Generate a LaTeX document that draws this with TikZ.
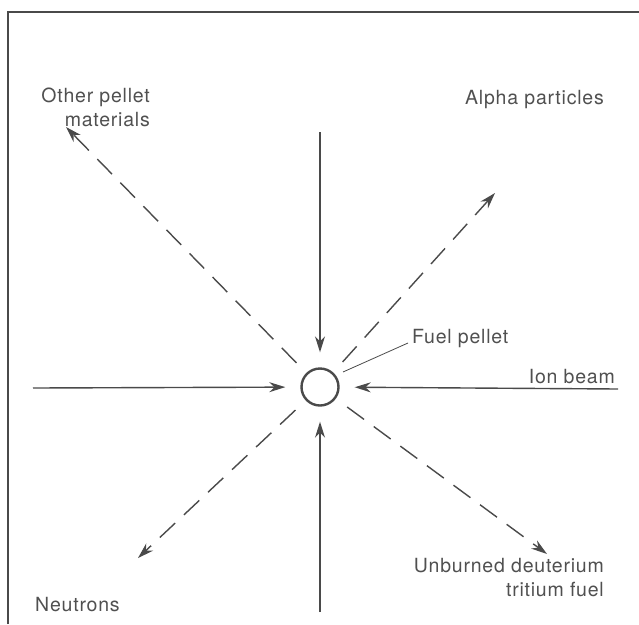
\documentclass[tikz,border=0pt]{standalone}
\usepackage{fontspec}
\setmainfont{TeX Gyre Heros}[LetterSpace=4]
\usetikzlibrary{arrows.meta}
\definecolor{ink}{HTML}{4A4A4A}
\definecolor{txt}{HTML}{505050}
\begin{document}
\begin{tikzpicture}[x=1pt,y=-1pt,
  lbl/.style={text=txt, font=\fontsize{19.5}{24}\selectfont, inner sep=0pt},
  tip/.style={-{Stealth[length=16pt,width=10pt]}},
  beam/.style={draw=ink, line width=1.4pt, tip, shorten >=15pt},
  prod/.style={draw=ink, line width=1.4pt, dash pattern=on 21pt off 12pt, tip, shorten <=14pt},
  frame/.style={draw=ink, line width=2pt},
  lead/.style={draw=ink, line width=0.8pt}]
\useasboundingbox (0,0) rectangle (639,624);
% frame
\draw[frame] (8,624) -- (8,12) -- (639,12);
% pellet
\node[draw=ink, line width=2.4pt, circle, minimum size=37pt, inner sep=0pt] (pellet) at (320,387) {};
% beam sources
\coordinate (top) at (320,132);
\coordinate (bot) at (320,612);
\coordinate (lft) at (33,388);
\coordinate (rgt) at (618,389);
\draw[beam] (top) -- (pellet);
\draw[beam] (bot) -- (pellet);
\draw[beam] (lft) -- (pellet);
\draw[beam] (rgt) -- (pellet);
% products
\coordinate (nw) at (66,127);
\coordinate (ne) at (495,193);
\coordinate (sw) at (138,558);
\coordinate (se) at (547,554);
\draw[prod] (pellet) -- (nw);
\draw[prod] (pellet) -- (ne);
\draw[prod] (pellet) -- (sw);
\draw[prod] (pellet) -- (se);
% labels
\node[lbl, anchor=north east, align=right] (other) at (150,88) {Other pellet\\materials};
\node[lbl, anchor=west] (alpha) at (465,100) {Alpha particles};
\node[lbl, anchor=west] (fuel) at (412,339) {Fuel pellet};
\node[lbl, anchor=east] (ion) at (615,377) {Ion beam};
\node[lbl, anchor=north east, align=right] (unb) at (604,558) {Unburned deuterium\\tritium fuel};
\node[lbl, anchor=west] (neut) at (35,605) {Neutrons};
\coordinate (leadend) at (343,372);
\draw[lead] (fuel.west) ++(-4,4) coordinate (leadstart) -- (leadend);
\end{tikzpicture}
\end{document}
